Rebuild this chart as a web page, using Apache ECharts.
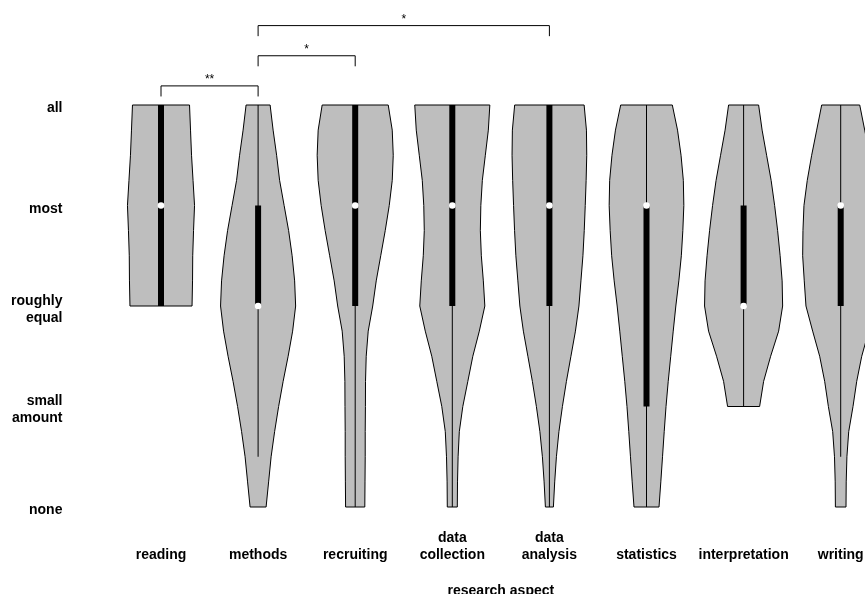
<!DOCTYPE html>
<html><head><meta charset="utf-8">
<script src="https://cdn.jsdelivr.net/npm/echarts@6/dist/echarts.min.js"></script>
<style>html,body{margin:0;padding:0;background:#fff}#c{width:865px;height:594px}</style>
</head><body><div id="c"></div>
<script>
// categories (x) and response levels (y: 1..5)
const categories = ['reading','methods','recruiting','data\ncollection','data\nanalysis','statistics','interpretation','writing'];
const yLevels = ['none','small\namount','roughly\nequal','most','all'];
// y positions at which the density (violin half-width) was read
const densityY = [1,1.25,1.5,1.75,2,2.25,2.5,2.75,3,3.25,3.5,3.75,4,4.25,4.5,4.75,5];
// kernel density half-widths (relative units), null = outside data range
const densReading        = [null,null,null,null,null,null,null,null,31,31.5,31.7,32.5,33.5,32,30.5,29.5,28.5];
const densMethods        = [8,10.5,13,16.5,20.5,25,30,34.5,37.5,36.5,34,30.5,26,21.5,18.5,15,12];
const densRecruiting     = [9.6,9.8,10,10,10.2,10.3,11,13,17.5,21,25.5,30,34,37,38,37,33];
const densDataCollection = [5,5.2,5.8,7,10.5,15.5,20.5,27,32.5,31,29,28,28.5,30,33,36,37.5];
const densDataAnalysis   = [4,5.3,7,9.5,13,17,21.5,26,29.5,31.5,33.5,34.8,35.8,36.7,37.3,37,34.7];
const densStatistics     = [12.5,14.3,16,17.7,19.5,21.7,24.2,26.7,29.3,32.3,34.8,36.3,37.3,36.8,34.5,31,25.8];
const densInterpretation = [null,null,null,null,16,20,27,35,39,38.5,36.5,34,31,27.5,23,18.5,15];
const densWriting        = [5.3,5.5,6.2,8,12.3,16,21,28,34.7,36.4,38,37.7,36.7,33.4,29,24,19];
const densities = [densReading,densMethods,densRecruiting,densDataCollection,densDataAnalysis,densStatistics,densInterpretation,densWriting];
// box-plot statistics
const medians   = [4,3,4,4,4,4,3,4];
const q1        = [3,3,3,3,3,2,3,3];
const q3        = [5,4,5,5,5,4,4,4];
const whiskLow  = [3,1.5,1,1,1,1,2,1.5];
const whiskHigh = [5,5,5,5,5,5,5,5];
// significance brackets: [from, to, level, label]
const brackets = [[0,1,1,'**'],[1,2,2,'*'],[1,4,3,'*']];

const DENS_SCALE = 1/97; // fraction of category band per density unit
const FONT = 'Liberation Sans, Arial, sans-serif';

const chart = echarts.init(document.getElementById('c'));
chart.setOption({
  animation:false,
  backgroundColor:'#fff',
  grid:{left:112.45, top:105, width:776.8, height:402, containLabel:false, outerBoundsMode:'none'},
  xAxis:{
    type:'category', data:categories,
    axisLine:{show:false}, axisTick:{show:false}, splitLine:{show:false},
    axisLabel:{interval:0, fontSize:14, fontWeight:'bold', color:'#000', fontFamily:FONT, lineHeight:17, verticalAlign:'bottom', margin:57, hideOverlap:false},
    name:'research aspect', nameLocation:'middle', nameGap:84,
    nameTextStyle:{fontSize:14, fontWeight:'bold', color:'#000', fontFamily:FONT, verticalAlign:'middle'}
  },
  yAxis:{
    type:'value', min:1, max:5, interval:1,
    axisLine:{show:false}, axisTick:{show:false}, splitLine:{show:false},
    axisLabel:{fontSize:14, fontWeight:'bold', color:'#000', fontFamily:FONT, lineHeight:17, margin:50,
      rich:{
        s:{fontSize:1, lineHeight:7},
        a:{fontSize:14, fontWeight:'bold', color:'#000', fontFamily:FONT, lineHeight:17, align:'right'}
      },
      formatter:function(v){
        const t = yLevels[Math.round(v)-1];
        if(!t) return '';
        return '{s| }\n' + t.split('\n').map(function(l){return '{a|'+l+'}';}).join('\n');
      }}
  },
  series:[
    {
      type:'custom', clip:false,
      encode:{x:0,y:1},
      data:categories.map(function(c,i){return [i, medians[i]];}),
      renderItem:function(params, api){
        const i = api.value(0);
        const d = densities[i];
        const k = api.size([1,0])[0]*DENS_SCALE;
        const left=[], right=[];
        for(let j=0;j<densityY.length;j++){
          if(d[j]==null) continue;
          const p = api.coord([i, densityY[j]]);
          left.push([p[0]-d[j]*k, p[1]]);
          right.push([p[0]+d[j]*k, p[1]]);
        }
        const pts = left.concat(right.reverse());
        const c = api.coord([i, medians[i]]);
        const pl = api.coord([i, whiskLow[i]]);
        const ph = api.coord([i, whiskHigh[i]]);
        const b1 = api.coord([i, q1[i]]);
        const b3 = api.coord([i, q3[i]]);
        return {type:'group', children:[
          {type:'polygon', shape:{points:pts}, style:{fill:'#bebebe', stroke:'#000', lineWidth:1}},
          {type:'line', shape:{x1:c[0], y1:pl[1], x2:c[0], y2:ph[1]}, style:{stroke:'#000', lineWidth:1}},
          {type:'rect', shape:{x:c[0]-3, y:b3[1], width:6, height:b1[1]-b3[1]}, style:{fill:'#000'}},
          {type:'circle', shape:{cx:c[0], cy:c[1], r:3.3}, style:{fill:'#fff'}}
        ]};
      }
    },
    {
      type:'custom', clip:false,
      encode:{x:0,y:1},
      data:brackets.map(function(b){return [b[0], 5];}),
      renderItem:function(params, api){
        const b = brackets[params.dataIndex];
        const top = 5.19 + (b[2]-1)*0.3;
        const bot = top - 0.105;
        const a1 = api.coord([b[0], top]), a2 = api.coord([b[1], top]);
        const t1 = api.coord([b[0], bot]), t2 = api.coord([b[1], bot]);
        return {type:'group', children:[
          {type:'polyline', shape:{points:[[a1[0],t1[1]],[a1[0],a1[1]],[a2[0],a2[1]],[a2[0],t2[1]]]}, style:{stroke:'#000', lineWidth:1, fill:null}},
          {type:'text', style:{text:b[3], x:(a1[0]+a2[0])/2, y:a1[1]-6, align:'center', verticalAlign:'middle', fontSize:12, fontFamily:FONT, fill:'#000'}}
        ]};
      }
    }
  ]
});
</script>
</body></html>
